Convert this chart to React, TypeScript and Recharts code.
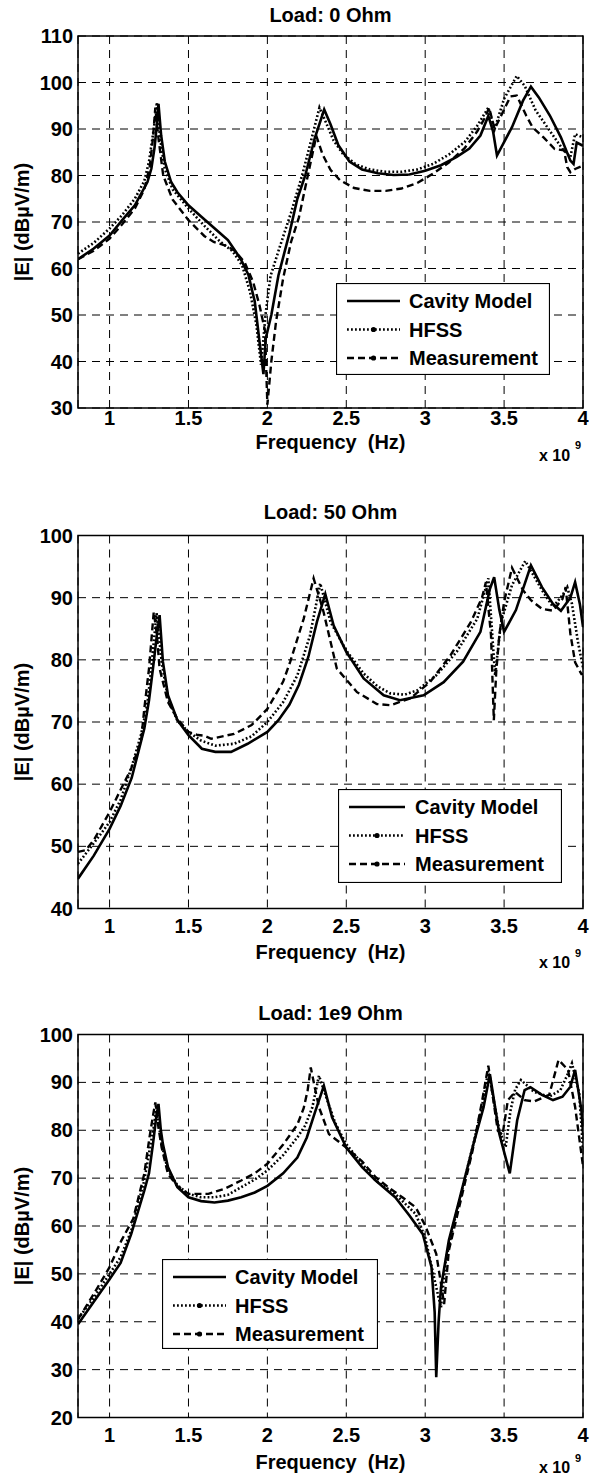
import React from 'react';
import { LineChart, Line, XAxis, YAxis, CartesianGrid, ReferenceArea, Legend } from 'recharts';

// frequency axis (x 10^9 Hz)
const freqTicks = [1, 1.5, 2, 2.5, 3, 3.5, 4];
const seriesNames = ['Cavity Model', 'HFSS', 'Measurement'];

// Load: 0 Ohm
const load0Ticks = [30, 40, 50, 60, 70, 80, 90, 100, 110];
const load0CavityFreq = [0.8, 0.9, 1.0, 1.08, 1.16, 1.24, 1.265, 1.285, 1.3, 1.31, 1.327, 1.35, 1.39, 1.43, 1.5, 1.58, 1.69, 1.75, 1.83, 1.88, 1.92, 1.95, 1.975, 1.99, 2.025, 2.07, 2.14, 2.19, 2.24, 2.3, 2.36, 2.4, 2.45, 2.52, 2.6, 2.7, 2.8, 2.9, 3.0, 3.1, 3.2, 3.28, 3.35, 3.4, 3.43, 3.455, 3.55, 3.62, 3.67, 3.72, 3.79, 3.86, 3.92, 3.94, 3.96, 4.0];
const load0CavityE = [62, 64.3, 67.1, 70.4, 73.6, 78.6, 81.5, 86, 91, 95.4, 88.6, 83, 78.6, 76.4, 73.6, 71.2, 67.9, 66.1, 62.1, 58.6, 52.9, 44.3, 37.3, 45, 50, 58.5, 67.6, 75, 80, 88, 94.2, 91, 86.5, 83, 81.3, 80.5, 80.1, 80.2, 81, 82.2, 84, 85.8, 88.6, 92.8, 89.5, 84.3, 90.4, 96.1, 99.1, 96.8, 92.9, 88.2, 83.2, 82.5, 87.1, 86.4];
const load0HfssFreq = [0.8, 0.9, 1.0, 1.08, 1.16, 1.22, 1.25, 1.28, 1.3, 1.32, 1.35, 1.4, 1.5, 1.6, 1.7, 1.78, 1.84, 1.89, 1.93, 1.96, 1.99, 2.02, 2.08, 2.15, 2.22, 2.28, 2.33, 2.37, 2.42, 2.48, 2.56, 2.65, 2.75, 2.85, 2.95, 3.05, 3.15, 3.25, 3.33, 3.4, 3.44, 3.5, 3.58, 3.63, 3.7, 3.79, 3.87, 3.92, 3.95, 4.0];
const load0HfssE = [63.2, 65.5, 68.6, 71.5, 75, 78.8, 83, 90, 95.7, 88, 81.4, 77, 72.9, 69.2, 65.8, 63.7, 60.7, 55, 48, 39.3, 50.6, 58.4, 64.8, 72, 80, 87.9, 94.6, 91.5, 87.5, 84.6, 82.4, 81.3, 80.8, 80.8, 81.3, 82.5, 84.5, 87.2, 90.7, 94.6, 90, 96.5, 101.4, 99.3, 94, 89.6, 85.7, 84, 88.9, 88.2];
const load0MeasFreq = [0.8, 0.9, 1.0, 1.08, 1.16, 1.22, 1.255, 1.275, 1.29, 1.31, 1.34, 1.4, 1.5, 1.6, 1.66, 1.73, 1.79, 1.855, 1.91, 1.95, 1.985, 2.0, 2.025, 2.055, 2.1, 2.15, 2.2, 2.25, 2.31, 2.35, 2.4, 2.46, 2.55, 2.65, 2.75, 2.85, 2.95, 3.05, 3.15, 3.25, 3.33, 3.38, 3.405, 3.44, 3.49, 3.54, 3.58, 3.64, 3.68, 3.75, 3.82, 3.88, 3.9, 3.92, 3.95, 4.0];
const load0MeasE = [62, 63.8, 66.4, 69.5, 72.9, 77, 82, 88, 94.6, 88, 80, 74.8, 70.4, 67, 65.7, 65, 63.9, 61.4, 57.1, 52.1, 46.6, 30.7, 40, 48.6, 57.9, 65.7, 71, 79, 88.5, 84.5, 81.2, 79, 77.3, 76.7, 76.7, 77.2, 78.4, 80.4, 82.8, 85.9, 89.5, 92.5, 94.6, 90, 93.5, 97, 97.2, 92.9, 90.4, 88.2, 85.7, 85.4, 81.8, 80.7, 81.4, 82.1];

// Load: 50 Ohm
const load50Ticks = [40, 50, 60, 70, 80, 90, 100];
const load50CavityFreq = [0.8, 0.9, 1.0, 1.07, 1.14, 1.22, 1.25, 1.275, 1.3, 1.317, 1.338, 1.37, 1.43, 1.5, 1.585, 1.67, 1.77, 1.875, 2.0, 2.07, 2.14, 2.2, 2.26, 2.314, 2.367, 2.42, 2.5, 2.61, 2.737, 2.84, 2.99, 3.117, 3.24, 3.35, 3.41, 3.437, 3.47, 3.5, 3.575, 3.67, 3.74, 3.81, 3.86, 3.92, 3.95, 3.98, 4.0];
const load50CavityE = [44.8, 48.5, 52.8, 56.5, 61, 68.9, 73.5, 78.6, 84, 87.2, 79.7, 74.3, 70.3, 67.9, 65.7, 65.2, 65.2, 66.5, 68.4, 70.3, 72.8, 76, 80.5, 86.1, 90.6, 85.5, 81.3, 77, 74.3, 73.5, 74.3, 76.4, 79.7, 84.5, 91.4, 93.3, 88, 84.5, 88, 95.2, 91.7, 89, 87.9, 90, 92.5, 89, 85.3];
const load50HfssFreq = [0.8, 0.9, 1.0, 1.07, 1.137, 1.2, 1.24, 1.264, 1.298, 1.33, 1.37, 1.43, 1.5, 1.58, 1.67, 1.79, 1.9, 2.0, 2.1, 2.19, 2.27, 2.335, 2.4, 2.5, 2.61, 2.7, 2.78, 2.87, 2.95, 3.07, 3.2, 3.33, 3.4, 3.443, 3.48, 3.55, 3.634, 3.7, 3.74, 3.81, 3.87, 3.9, 3.93, 3.97, 4.0];
const load50HfssE = [47.2, 50.5, 53.9, 57.5, 62.5, 68, 73, 78.6, 87.5, 79.7, 73.8, 70.2, 68.4, 67, 66.2, 66.5, 67.7, 70, 73.2, 77.5, 83.9, 92.3, 86.1, 81.5, 77.8, 75.7, 74.6, 74.4, 75.1, 77.5, 81.3, 86.6, 93.1, 77.5, 86, 92, 95.9, 93, 91.2, 88.5, 90.4, 91.7, 89, 82.6, 78.8];
const load50MeasFreq = [0.8, 0.85, 0.9, 1.0, 1.074, 1.137, 1.2, 1.22, 1.25, 1.28, 1.3, 1.317, 1.37, 1.43, 1.5, 1.56, 1.6, 1.644, 1.79, 1.9, 2.0, 2.1, 2.145, 2.23, 2.293, 2.33, 2.356, 2.44, 2.568, 2.694, 2.78, 2.905, 3.03, 3.16, 3.29, 3.36, 3.385, 3.417, 3.435, 3.45, 3.47, 3.5, 3.55, 3.62, 3.67, 3.74, 3.81, 3.87, 3.89, 3.92, 3.95, 3.99, 4.0];
const load50MeasE = [49.1, 49.4, 51, 55.5, 59.3, 62.5, 67, 72.1, 78.6, 87.7, 84, 78.6, 73.2, 70.5, 68.4, 67.9, 67.8, 67.3, 68.1, 69.5, 72.1, 76.5, 79.7, 86.6, 93.1, 90, 87.7, 78.6, 74.8, 72.9, 72.7, 73.8, 76.4, 80.7, 86.1, 90, 92.5, 84, 70.3, 78, 84, 89.3, 94.8, 91.2, 89.6, 88.2, 87.9, 89.8, 91.7, 84.2, 79.6, 77.7, 77.7];

// Load: 1e9 Ohm
const load1e9Ticks = [20, 30, 40, 50, 60, 70, 80, 90, 100];
const load1e9CavityFreq = [0.8, 0.9, 1.0, 1.07, 1.137, 1.22, 1.25, 1.275, 1.295, 1.31, 1.325, 1.338, 1.37, 1.43, 1.5, 1.58, 1.665, 1.75, 1.834, 1.92, 2.0, 2.1, 2.19, 2.25, 2.305, 2.358, 2.41, 2.5, 2.6, 2.686, 2.81, 2.9, 2.985, 3.04, 3.06, 3.07, 3.085, 3.1, 3.15, 3.215, 3.3, 3.37, 3.41, 3.47, 3.536, 3.583, 3.63, 3.667, 3.74, 3.81, 3.87, 3.92, 3.95, 3.99, 4.0];
const load1e9CavityE = [39.5, 44.2, 48.9, 52.3, 58.3, 67.4, 71, 77.1, 82.5, 85.5, 80, 77.1, 72.3, 68.1, 66, 65.2, 64.9, 65.3, 66, 67, 68.4, 71, 74.3, 78.5, 84.1, 89.3, 82.7, 76.4, 72.3, 69.5, 66, 62.2, 58.3, 51.4, 42, 28.4, 40, 47.2, 57, 65.3, 76.4, 84.8, 91.7, 79.2, 71, 82.1, 88.4, 89, 87.4, 86.3, 87, 89.1, 92.6, 84.2, 79.4];
const load1e9HfssFreq = [0.8, 0.9, 1.0, 1.07, 1.137, 1.22, 1.264, 1.28, 1.298, 1.315, 1.33, 1.37, 1.43, 1.5, 1.58, 1.665, 1.75, 1.834, 1.92, 2.0, 2.1, 2.19, 2.24, 2.285, 2.327, 2.38, 2.43, 2.5, 2.6, 2.686, 2.81, 2.94, 3.0, 3.07, 3.1, 3.13, 3.195, 3.3, 3.36, 3.4, 3.47, 3.51, 3.54, 3.57, 3.607, 3.69, 3.786, 3.857, 3.9, 3.93, 3.976, 4.0];
const load1e9HfssE = [40.6, 45, 50, 53.5, 59, 69.5, 77.8, 80.5, 85.1, 80.5, 77.1, 71.6, 68.5, 66.7, 66, 66, 66.5, 68.1, 69.7, 71.6, 74.8, 78.5, 81, 84.8, 91.4, 86.2, 81.5, 77.1, 73, 69.5, 66.7, 62.5, 57.6, 47.2, 43, 52.7, 62.5, 76.4, 85, 92.4, 79.9, 76.5, 84, 88.5, 90.5, 88, 87, 88.4, 91.5, 94, 87.7, 76];
const load1e9MeasFreq = [0.8, 0.9, 1.0, 1.074, 1.15, 1.22, 1.253, 1.275, 1.29, 1.31, 1.33, 1.37, 1.43, 1.5, 1.626, 1.73, 1.834, 1.92, 2.0, 2.1, 2.19, 2.23, 2.255, 2.275, 2.3, 2.327, 2.39, 2.5, 2.6, 2.686, 2.77, 2.855, 2.94, 3.0, 3.07, 3.1, 3.12, 3.15, 3.215, 3.3, 3.36, 3.4, 3.46, 3.49, 3.524, 3.57, 3.63, 3.69, 3.786, 3.845, 3.905, 3.95, 4.0];
const load1e9MeasE = [40.5, 45.8, 51.4, 56.9, 61.5, 70.9, 78.5, 83, 85.8, 80.5, 76.4, 70.9, 68.3, 66.7, 66.7, 67.8, 69.5, 71, 73, 77, 81.2, 84.6, 88.3, 93.1, 89, 84.8, 79.2, 76.4, 73.5, 70.2, 68, 66, 63.9, 60.1, 54.2, 48, 43.7, 54.9, 63.9, 75.7, 86, 93.5, 79.9, 79, 86.3, 88, 86.3, 86, 87.4, 94.7, 92.6, 84.9, 72.5];

const toPoints = (freq: number[], e: number[]) => freq.map((f, i) => ({ f, e: e[i] }));

const FONT = "'Liberation Sans', Arial, Helvetica, sans-serif";
const W = 591;
const PLOT_LEFT = 78;
const PLOT_RIGHT = 583;

const seriesStyles = [
  { width: 2.6, dash: undefined, marker: false },
  { width: 2.6, dash: '1.8 2.2', marker: true },
  { width: 2.4, dash: '7 4', marker: true },
];
const legendRows = [18, 46.5, 75];

type Box = { left: number; top: number; width: number; height: number; lineX0: number; lineX1: number; textX: number };

const LegendBox = ({ box }: { box: Box }) => {
  const x0 = box.lineX0 - box.left;
  const x1 = box.lineX1 - box.left;
  return (
    <svg width={box.width} height={box.height} style={{ display: 'block' }}>
      <rect x={0.5} y={0.5} width={box.width - 1} height={box.height - 1} fill="#fff" stroke="#000" strokeWidth={1.2} />
      {seriesStyles.map((s, i) => (
        <g key={seriesNames[i]}>
          <line x1={x0} x2={x1} y1={legendRows[i]} y2={legendRows[i]} stroke="#000" strokeWidth={s.width} strokeDasharray={s.dash} />
          {s.marker && <circle cx={(x0 + x1) / 2} cy={legendRows[i]} r={2.6} fill="#000" />}
          <text x={box.textX - box.left} y={legendRows[i]} dominantBaseline="central" fontFamily={FONT} fontWeight="bold" fontSize={20} fill="#000">
            {seriesNames[i]}
          </text>
        </g>
      ))}
    </svg>
  );
};

type PanelProps = {
  title: string;
  top: number;
  height: number;
  marginTop: number;
  axisH: number;
  titleY: number;
  tickGap: number;
  labelDy: number;
  x10Dy: number;
  yDomain: [number, number];
  yTicks: number[];
  legend: Box;
  series: { f: number; e: number }[][];
};

const Panel = (p: PanelProps) => {
  const plotBottom = p.height - p.axisH;
  const plotMid = (p.marginTop + plotBottom) / 2;
  const cx = (PLOT_LEFT + PLOT_RIGHT) / 2;
  return (
    <div style={{ position: 'absolute', left: 0, top: p.top, width: W, height: p.height }}>
      <div style={{ position: 'absolute', left: 0, width: 2 * cx, top: p.titleY - 12, height: 24, lineHeight: '24px', textAlign: 'center', fontFamily: FONT, fontWeight: 'bold', fontSize: 20, color: '#000' }}>
        {p.title}
      </div>
      <LineChart width={W} height={p.height} margin={{ top: p.marginTop, right: W - PLOT_RIGHT, bottom: 0, left: 0 }}>
        <CartesianGrid stroke="#000" strokeWidth={1} strokeDasharray="8 6" />
        <XAxis
          type="number"
          dataKey="f"
          domain={[0.8, 4]}
          ticks={freqTicks}
          allowDataOverflow
          height={p.axisH}
          axisLine={false}
          tickLine={false}
          tickSize={0}
          tickMargin={p.tickGap}
          tick={{ fill: '#000', fontFamily: FONT, fontWeight: 'bold', fontSize: 20 }}
          label={{
            content: () => (
              <g fontFamily={FONT} fontWeight="bold" fill="#000">
                <text x={cx} y={plotBottom + p.labelDy} textAnchor="middle" dominantBaseline="central" fontSize={20} style={{ whiteSpace: 'pre' }}>
                  {'Frequency  (Hz)'}
                </text>
                <text x={539} y={plotBottom + p.x10Dy} dominantBaseline="central" fontSize={16}>x 10</text>
                <text x={575} y={plotBottom + p.x10Dy - 10} dominantBaseline="central" fontSize={11}>9</text>
              </g>
            ),
          }}
        />
        <YAxis
          type="number"
          domain={p.yDomain}
          ticks={p.yTicks}
          allowDataOverflow
          width={PLOT_LEFT}
          axisLine={false}
          tickLine={false}
          tickSize={0}
          tickMargin={5}
          tick={{ fill: '#000', fontFamily: FONT, fontWeight: 'bold', fontSize: 20 }}
          label={{
            content: () => (
              <text
                x={22}
                y={plotMid}
                transform={`rotate(-90 22 ${plotMid})`}
                textAnchor="middle"
                dominantBaseline="central"
                fontFamily={FONT}
                fontWeight="bold"
                fontSize={20}
                fill="#000"
              >
                |E| (dBµV/m)
              </text>
            ),
          }}
        />
        <ReferenceArea x1={0.8} x2={4} y1={p.yDomain[0]} y2={p.yDomain[1]} fill="none" stroke="#000" strokeWidth={1.5} ifOverflow="visible" />
        {p.series.map((data, i) => (
          <Line
            key={seriesNames[i]}
            data={data}
            dataKey="e"
            name={seriesNames[i]}
            type="linear"
            stroke="#000"
            strokeWidth={seriesStyles[i].width}
            strokeDasharray={seriesStyles[i].dash}
            dot={false}
            activeDot={false}
            isAnimationActive={false}
          />
        ))}
        <Legend
          layout="horizontal"
          verticalAlign="middle"
          align="center"
          wrapperStyle={{ left: p.legend.left, top: p.legend.top, width: p.legend.width, height: p.legend.height }}
          content={() => <LegendBox box={p.legend} />}
        />
      </LineChart>
    </div>
  );
};

const App = () => {
  return (
    <div style={{ position: 'absolute', left: 0, top: 0, width: W, height: 1477, background: '#fff' }}>
      <Panel
        title="Load: 0 Ohm"
        top={0}
        height={470}
        marginTop={36}
        axisH={62}
        titleY={15}
        tickGap={3}
        labelDy={34}
        x10Dy={47}
        yDomain={[30, 110]}
        yTicks={load0Ticks}
        legend={{ left: 336, top: 283, width: 214, height: 92, lineX0: 347, lineX1: 400, textX: 409 }}
        series={[
          toPoints(load0CavityFreq, load0CavityE),
          toPoints(load0HfssFreq, load0HfssE),
          toPoints(load0MeasFreq, load0MeasE),
        ]}
      />
      <Panel
        title="Load: 50 Ohm"
        top={480}
        height={490}
        marginTop={55.5}
        axisH={61.5}
        titleY={32}
        tickGap={10}
        labelDy={43}
        x10Dy={54}
        yDomain={[40, 100]}
        yTicks={load50Ticks}
        legend={{ left: 338, top: 309, width: 224, height: 94, lineX0: 349, lineX1: 405, textX: 415 }}
        series={[
          toPoints(load50CavityFreq, load50CavityE),
          toPoints(load50HfssFreq, load50HfssE),
          toPoints(load50MeasFreq, load50MeasE),
        ]}
      />
      <Panel
        title="Load: 1e9 Ohm"
        top={980}
        height={497}
        marginTop={54.5}
        axisH={59.5}
        titleY={33}
        tickGap={10}
        labelDy={44}
        x10Dy={50}
        yDomain={[20, 100]}
        yTicks={load1e9Ticks}
        legend={{ left: 162, top: 279, width: 216, height: 90, lineX0: 173, lineX1: 226, textX: 235 }}
        series={[
          toPoints(load1e9CavityFreq, load1e9CavityE),
          toPoints(load1e9HfssFreq, load1e9HfssE),
          toPoints(load1e9MeasFreq, load1e9MeasE),
        ]}
      />
    </div>
  );
};

export default App;
